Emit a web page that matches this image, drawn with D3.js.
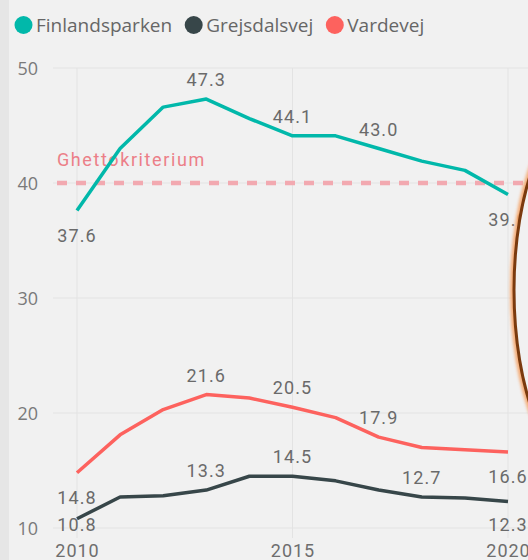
<!DOCTYPE html>
<html><head><meta charset="utf-8">
<script src="https://cdn.jsdelivr.net/npm/d3@7"></script>
<style>
html,body{margin:0;padding:0;background:#f1f1f1;}
svg{display:block;}
</style></head>
<body>
<svg id="chart" width="528" height="560"></svg>
<script>
const years = [2010,2011,2012,2013,2014,2015,2016,2017,2018,2019,2020];
const seriesNames = ["Finlandsparken","Grejsdalsvej","Vardevej"];
const finlandsparken = [37.6,43.0,46.6,47.3,45.6,44.1,44.1,43.0,41.9,41.1,39.0];
const grejsdalsvej   = [10.8,12.7,12.8,13.3,14.5,14.5,14.1,13.3,12.7,12.6,12.3];
const vardevej       = [14.8,18.1,20.3,21.6,21.3,20.5,19.6,17.9,17.0,16.8,16.6];
const finlandLabelYears = [2010,2013,2015,2017,2020];
const grejsLabelYears   = [2010,2013,2015,2018,2020];
const vardeLabelYears   = [2010,2013,2015,2017,2020];
const yTicks = [10,20,30,40,50];
const xTicks = [2010,2015,2020];
const refValue = 40;
const refLabel = "Ghettokriterium";
const colors = ["#01B8AA","#374649","#FD625E"];

const svg = d3.select("#chart");
const W = 528, H = 560;
svg.append("rect").attr("width",W).attr("height",H).attr("fill","#f1f1f1");
svg.append("rect").attr("width",9).attr("height",H).attr("fill","#e6e6e6");

const x = d3.scaleLinear().domain([2010,2020]).range([77,508]);
const y = d3.scaleLinear().domain([10,50]).range([528,68]);

// gridlines
svg.append("g").selectAll("line").data(yTicks).join("line")
  .attr("x1",53).attr("x2",W).attr("y1",d=>y(d)).attr("y2",d=>y(d))
  .attr("stroke","#e3e3e3").attr("stroke-width",1);
svg.append("g").selectAll("line").data(xTicks).join("line")
  .attr("x1",d=>x(d)).attr("x2",d=>x(d)).attr("y1",y(50)).attr("y2",538)
  .attr("stroke","#e3e3e3").attr("stroke-width",1);

// y axis
const yAxis = d3.axisLeft(y).tickValues(yTicks).tickSize(0).tickPadding(0);
const gy = svg.append("g").attr("transform","translate(38,0)").call(yAxis);
gy.select(".domain").remove();
gy.selectAll("text").attr("font-family","'Open Sans', sans-serif").attr("font-size",18)
  .attr("fill","#7a7a7a").attr("dy","0.34em");

// x axis
const xAxis = d3.axisBottom(x).tickValues(xTicks).tickFormat(d3.format("d")).tickSize(0).tickPadding(0);
const gx = svg.append("g").attr("transform","translate(0,543)").call(xAxis);
gx.select(".domain").remove();
gx.selectAll("text").attr("font-family","Roboto, sans-serif").attr("font-size",18)
  .attr("letter-spacing","1px").attr("fill","#6e6e6e").attr("dy","0.8em");

// reference line
svg.append("line").attr("x1",57).attr("x2",W).attr("y1",y(refValue)).attr("y2",y(refValue))
  .attr("stroke","#f2a9b0").attr("stroke-width",4.5).attr("stroke-dasharray","10,9");
svg.append("text").attr("x",57).attr("y",166).text(refLabel)
  .attr("font-family","Roboto, sans-serif").attr("font-size",18).attr("letter-spacing","1.6px")
  .attr("fill","#ec7f88");

// lines
const data = [
  {name:seriesNames[0], values:finlandsparken, labels:finlandLabelYears, color:colors[0]},
  {name:seriesNames[1], values:grejsdalsvej, labels:grejsLabelYears, color:colors[1]},
  {name:seriesNames[2], values:vardevej, labels:vardeLabelYears, color:colors[2]}
];
const line = d3.line().x((d,i)=>x(years[i])).y(d=>y(d));
svg.append("g").selectAll("path").data(data).join("path")
  .attr("d",d=>line(d.values)).attr("fill","none").attr("stroke",d=>d.color)
  .attr("stroke-width",3.5).attr("stroke-linejoin","round");

// data labels
const plotBottom = 531;
data.forEach(s=>{
  s.labels.forEach(yr=>{
    const i = years.indexOf(yr);
    const v = s.values[i];
    const below = (i===0 || i===years.length-1);
    const ty = below ? Math.min(y(v)+31, plotBottom) : y(v)-13;
    svg.append("text").attr("x",x(yr)).attr("y", ty)
      .attr("text-anchor","middle").text(d3.format(".1f")(v))
      .attr("font-family","Roboto, sans-serif").attr("font-size",18).attr("letter-spacing","1.1px")
      .attr("fill","#6a6a6a");
  });
});

// legend
const leg = svg.append("g");
let lx = 14;
data.forEach(s=>{
  leg.append("circle").attr("cx",lx+9.5).attr("cy",25).attr("r",9).attr("fill",s.color);
  const t = leg.append("text").attr("x",lx+22).attr("y",25).attr("dy","0.35em").text(s.name)
    .attr("font-family","'Open Sans', sans-serif").attr("font-size",19).attr("fill","#666666");
  lx += 22 + t.node().getComputedTextLength() + 12;
});

// annotation ellipse
const defs = svg.append("defs");
defs.append("filter").attr("id","blur").append("feGaussianBlur").attr("stdDeviation",1.5);
const ec = {cx:594, cy:290, rx:80, ry:190};
svg.append("ellipse").attr("cx",ec.cx).attr("cy",ec.cy).attr("rx",ec.rx).attr("ry",ec.ry)
  .attr("fill","#f1f1f1").attr("stroke","#f5a56a").attr("stroke-width",8).attr("filter","url(#blur)").attr("opacity",0.9);
svg.append("ellipse").attr("cx",ec.cx).attr("cy",ec.cy).attr("rx",ec.rx).attr("ry",ec.ry)
  .attr("fill","#f1f1f1").attr("stroke","none");
svg.append("ellipse").attr("cx",ec.cx).attr("cy",ec.cy).attr("rx",ec.rx).attr("ry",ec.ry)
  .attr("fill","none").attr("stroke","#7a3a0e").attr("stroke-width",3);
</script>
</body></html>
